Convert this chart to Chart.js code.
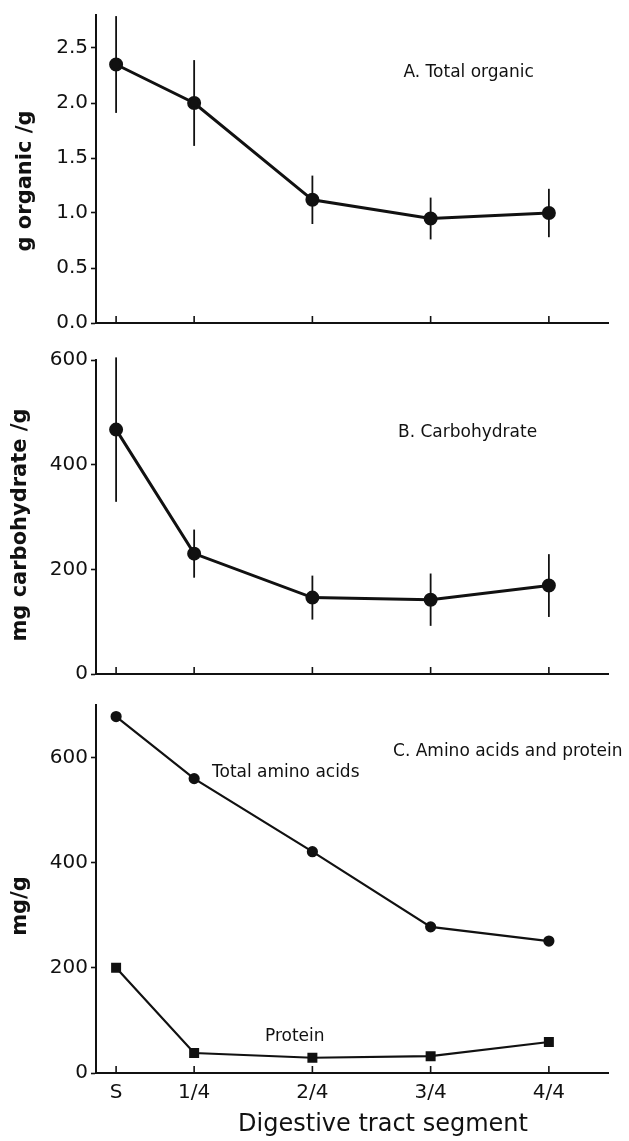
<!DOCTYPE html>
<html>
<head>
<meta charset="utf-8">
<script src="https://cdn.jsdelivr.net/npm/chart.js@4.4.1/dist/chart.umd.min.js"></script>
<style>
  body { margin: 0; background: #fff; }
  canvas { position: absolute; left: 0; }
</style>
</head>
<body>
<canvas id="chartA" width="629" height="345" style="top:0"></canvas>
<canvas id="chartB" width="629" height="345" style="top:345px"></canvas>
<canvas id="chartC" width="629" height="451" style="top:690px"></canvas>
<script>
// digestive tract segments, S sits a bit left of the regular spacing
const segments = ['S', '1/4', '2/4', '3/4', '4/4']
const segmentPos = [0.34, 1, 2, 3, 4]

// A. total organic (g organic / g) with error bars
const organic = [2.35, 2.0, 1.12, 0.95, 1.0]
const organicErr = [0.44, 0.39, 0.22, 0.19, 0.22]
const organicTicks = [0, 0.5, 1, 1.5, 2, 2.5]

// B. carbohydrate (mg / g) with error bars
const carbo = [467, 230, 146, 142, 169]
const carboErr = [138, 46, 42, 50, 60]
const carboTicks = [0, 200, 400, 600]

// C. amino acids and protein (mg / g)
const aminoAcids = [678, 560, 421, 278, 251]
const protein = [200, 38, 29, 32, 59]
const aminoTicks = [0, 200, 400, 600]

const INK = '#111'
const FONT = 'DejaVu Sans'

const toPoints = vals => vals.map((v, i) => ({ x: segmentPos[i], y: v }))

// error bars, inward x ticks, text labels and axis titles
const extras = {
    id: 'extras',
    beforeDatasetsDraw(chart) {
        const { ctx, scales: { x, y } } = chart
        ctx.save()
        ctx.strokeStyle = INK
        ctx.lineWidth = 1.8
        chart.data.datasets.forEach(ds => {
            if (!ds.errors) return
            ds.data.forEach((p, i) => {
                const px = x.getPixelForValue(p.x)
                ctx.beginPath()
                ctx.moveTo(px, y.getPixelForValue(p.y + ds.errors[i]))
                ctx.lineTo(px, y.getPixelForValue(p.y - ds.errors[i]))
                ctx.stroke()
            })
        })
        ctx.restore()
    },
    afterDraw(chart, args, opts) {
        const { ctx, scales: { x, y }, chartArea } = chart
        ctx.save()
        ctx.strokeStyle = INK
        ctx.lineWidth = 1.6
        segmentPos.forEach(v => {
            const px = x.getPixelForValue(v)
            ctx.beginPath()
            ctx.moveTo(px, chartArea.bottom)
            ctx.lineTo(px, chartArea.bottom - 7)
            ctx.stroke()
        })

        ctx.fillStyle = INK
        ctx.textBaseline = 'middle'
        ctx.textAlign = 'left'
        ctx.font = '17px ' + FONT
        ;(opts.labels || []).forEach(l => {
            ctx.fillText(l.text, x.getPixelForValue(l.x), y.getPixelForValue(l.y))
        })

        if (opts.yTitle) {
            ctx.save()
            ctx.font = 'bold 21px ' + FONT
            ctx.textAlign = 'center'
            ctx.translate(opts.yTitle.cx, opts.yTitle.cy)
            ctx.rotate(-Math.PI / 2)
            ctx.fillText(opts.yTitle.text, 0, 0)
            ctx.restore()
        }
        if (opts.xTitle) {
            ctx.font = '24px ' + FONT
            ctx.textAlign = 'center'
            ctx.fillText(opts.xTitle.text, opts.xTitle.cx, opts.xTitle.cy)
        }
        ctx.restore()
    }
}

function panelOptions(cfg) {
    return {
        responsive: false,
        animation: false,
        layout: { padding: { top: cfg.top, right: 21, left: 0, bottom: 0 } },
        plugins: {
            legend: { display: false },
            tooltip: { enabled: false },
            extras: cfg.extras
        },
        scales: {
            x: {
                type: 'linear',
                min: 0.17,
                max: 4.5,
                afterBuildTicks: s => { s.ticks = segmentPos.map(v => ({ value: v })) },
                afterFit: s => { s.height = cfg.xHeight },
                grid: { display: false, drawTicks: false },
                border: { color: INK, width: 2 },
                ticks: {
                    display: cfg.showX,
                    autoSkip: false,
                    maxRotation: 0,
                    padding: 8,
                    color: INK,
                    font: { family: FONT, size: 20 },
                    callback: (v, i) => segments[i]
                }
            },
            y: {
                min: cfg.yMin,
                max: cfg.yMax,
                afterBuildTicks: s => { s.ticks = cfg.yTicks.map(v => ({ value: v })) },
                afterFit: s => { s.width = 96 },
                grid: { drawOnChartArea: false, tickLength: 5, tickWidth: 1.6, tickColor: INK },
                border: { color: INK, width: 2 },
                ticks: {
                    padding: 3,
                    color: INK,
                    font: { family: FONT, size: 20 },
                    callback: cfg.yFmt
                }
            }
        }
    }
}

const lineStyle = {
    borderColor: INK,
    backgroundColor: INK,
    pointBackgroundColor: INK,
    pointBorderColor: INK,
    clip: false
}

new Chart(document.getElementById('chartA'), {
    type: 'line',
    data: {
        datasets: [{
            ...lineStyle,
            label: 'Total organic',
            data: toPoints(organic),
            errors: organicErr,
            borderWidth: 3,
            pointRadius: 5.5
        }]
    },
    options: panelOptions({
        top: 10, xHeight: 22, showX: false,
        yMin: 0, yMax: 2.8, yTicks: organicTicks,
        yFmt: v => v.toFixed(1),
        extras: {
            labels: [{ text: 'A. Total organic', x: 2.77, y: 2.275 }],
            yTitle: { text: 'g organic /g', cx: 26, cy: 181 }
        }
    }),
    plugins: [extras]
})

new Chart(document.getElementById('chartB'), {
    type: 'line',
    data: {
        datasets: [{
            ...lineStyle,
            label: 'Carbohydrate',
            data: toPoints(carbo),
            errors: carboErr,
            borderWidth: 3,
            pointRadius: 5.5
        }]
    },
    options: panelOptions({
        top: 13, xHeight: 16, showX: false,
        yMin: 0, yMax: 600, yTicks: carboTicks,
        yFmt: v => String(v),
        extras: {
            labels: [{ text: 'B. Carbohydrate', x: 2.724, y: 461 }],
            yTitle: { text: 'mg carbohydrate /g', cx: 21, cy: 180 }
        }
    }),
    plugins: [extras]
})

new Chart(document.getElementById('chartC'), {
    type: 'line',
    data: {
        datasets: [{
            ...lineStyle,
            label: 'Total amino acids',
            data: toPoints(aminoAcids),
            borderWidth: 2.2,
            pointRadius: 4.5
        }, {
            ...lineStyle,
            label: 'Protein',
            data: toPoints(protein),
            borderWidth: 2.2,
            pointStyle: 'rect',
            pointRadius: 5.5
        }]
    },
    options: panelOptions({
        top: 15, xHeight: 68, showX: true,
        yMin: 0, yMax: 700, yTicks: aminoTicks,
        yFmt: v => String(v),
        extras: {
            labels: [
                { text: 'C. Amino acids and protein', x: 2.682, y: 612 },
                { text: 'Total amino acids', x: 1.151, y: 571 },
                { text: 'Protein', x: 1.599, y: 68.5 }
            ],
            yTitle: { text: 'mg/g', cx: 21, cy: 216 },
            xTitle: { text: 'Digestive tract segment', cx: 383, cy: 435 }
        }
    }),
    plugins: [extras]
})
</script>
</body>
</html>
